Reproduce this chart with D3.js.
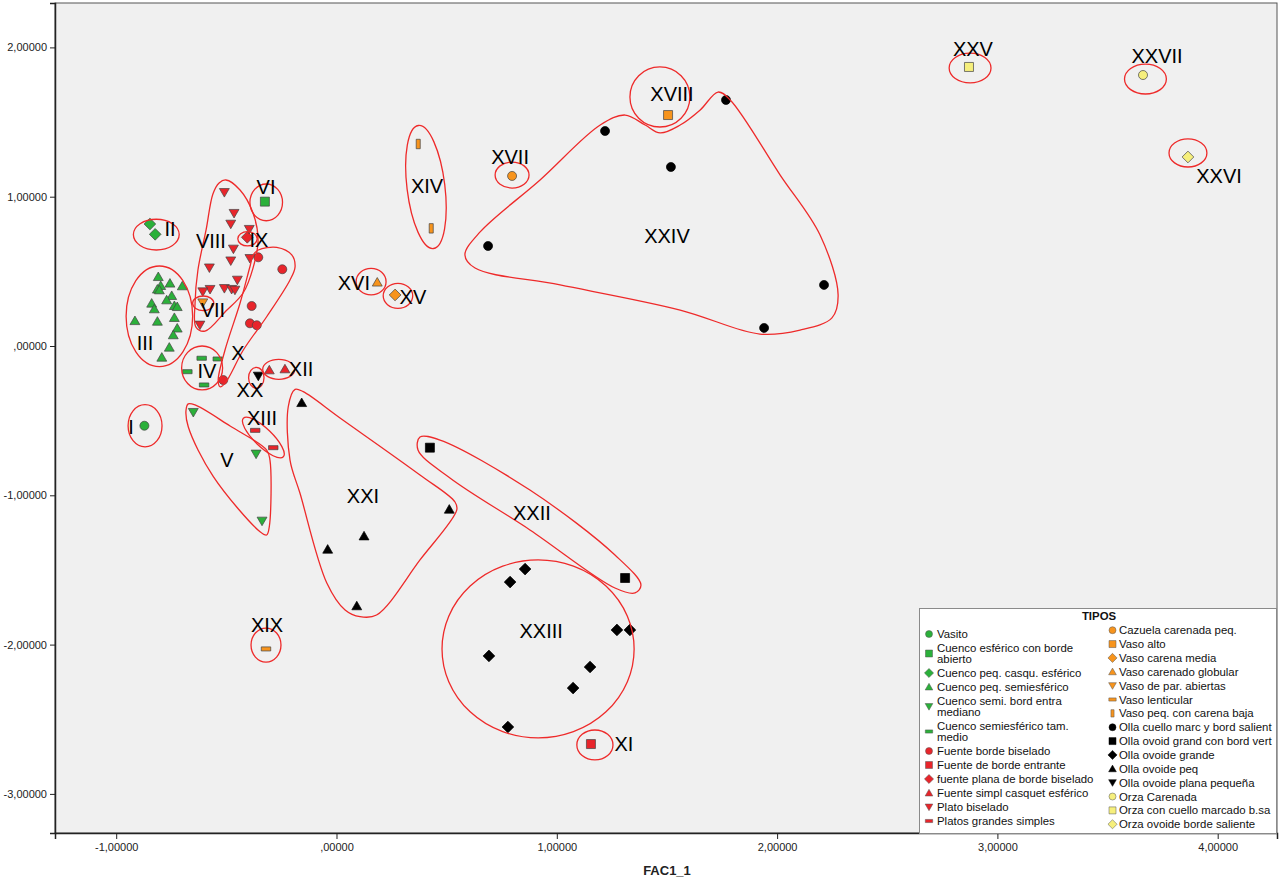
<!DOCTYPE html>
<html>
<head>
<meta charset="utf-8">
<script src="https://cdn.jsdelivr.net/npm/d3@7"></script>
<style>
  body { margin: 0; background: #ffffff; }
  svg { display: block; font-family: "Liberation Sans", Arial, sans-serif; }
</style>
</head>
<body>
<svg id="chart" width="1279" height="879"></svg>
<script>
// ---- Factor scores (FAC1_1, FAC2_1) per vessel type ----
const vasito = [[-0.872, -0.534]];
const cuencoEsfericoBordeAbierto = [[-0.325, 0.967]];
const cuencoPeqCasquEsferico = [[-0.847, 0.817], [-0.823, 0.748]];
const cuencoPeqSemiesferico = [
  [-0.809, 0.464], [-0.798, 0.404], [-0.756, 0.420], [-0.700, 0.402], [-0.813, 0.380],
  [-0.804, 0.375], [-0.748, 0.337], [-0.771, 0.308], [-0.839, 0.286], [-0.827, 0.248],
  [-0.736, 0.270], [-0.723, 0.263], [-0.915, 0.169], [-0.813, 0.165], [-0.736, 0.190],
  [-0.723, 0.119], [-0.741, 0.074], [-0.759, -0.009], [-0.793, -0.076]
];
const cuencoSemiBordEntraMediano = [[-0.650, -0.444], [-0.365, -0.723], [-0.338, -1.172]];
const cuencoSemiesfericoTamMedio = [[-0.612, -0.082], [-0.539, -0.087], [-0.677, -0.172], [-0.601, -0.261]];
const fuenteBordeBiselado = [[-0.355, 0.594], [-0.246, 0.514], [-0.385, 0.268], [-0.393, 0.152], [-0.362, 0.139], [-0.514, -0.228]];
const fuenteBordeEntrante = [[1.155, -2.666]];
const fuentePlanaBordeBiselado = [[-0.405, 0.728]];
const fuenteSimplCasquetEsferico = [[-0.305, -0.161], [-0.234, -0.154]];
const platoBiselado = [
  [-0.509, 1.029], [-0.465, 0.889], [-0.480, 0.817], [-0.396, 0.782], [-0.468, 0.650],
  [-0.480, 0.571], [-0.393, 0.587], [-0.577, 0.524], [-0.450, 0.442], [-0.509, 0.386],
  [-0.476, 0.380], [-0.461, 0.375], [-0.574, 0.380], [-0.607, 0.364], [-0.620, 0.141]
];
const platosGrandesSimples = [[-0.369, -0.565], [-0.287, -0.681]];
const cazuelaCarenadaPeq = [[0.797, 1.139]];
const vasoAlto = [[1.505, 1.547]];
const vasoCarenaMedia = [[0.266, 0.342]];
const vasoCarenadoGlobular = [[0.185, 0.427]];
const vasoParAbiertas = [[-0.607, 0.290]];
const vasoLenticular = [[-0.320, -2.029]];
const vasoPeqCarenaBaja = [[0.371, 1.353], [0.430, 0.788]];
const ollaCuelloMarc = [[1.219, 1.440], [1.768, 1.648], [1.518, 1.199], [0.688, 0.670], [2.213, 0.409], [1.941, 0.121]];
const ollaOvoidGrandBordVert = [[0.424, -0.681], [1.310, -1.554]];
const ollaOvoideGrande = [
  [0.788, -1.581], [0.856, -1.494], [1.273, -1.902], [1.332, -1.902],
  [0.692, -2.076], [1.151, -2.150], [1.074, -2.291], [0.778, -2.552]
];
const ollaOvoidePeq = [[-0.158, -0.380], [0.512, -1.094], [0.125, -1.273], [-0.040, -1.362], [0.092, -1.741]];
const ollaOvoidePlanaPequena = [[-0.355, -0.201]];
const orzaCarenada = [[3.661, 1.815]];
const orzaCuelloMarcado = [[2.871, 1.869]];
const orzaOvoideBordeSaliente = [[3.865, 1.266]];

// ---- Legend names, in legend order (two columns) ----
const tiposCol1 = [
  "Vasito", "Cuenco esférico con borde abierto", "Cuenco peq. casqu. esférico",
  "Cuenco peq. semiesférico", "Cuenco semi. bord entra mediano", "Cuenco semiesférico tam. medio",
  "Fuente borde biselado", "Fuente de borde entrante", "fuente plana de borde biselado",
  "Fuente simpl casquet esférico", "Plato biselado", "Platos grandes simples"
];
const tiposCol2 = [
  "Cazuela carenada peq.", "Vaso alto", "Vaso carena media", "Vaso carenado globular",
  "Vaso de par. abiertas", "Vaso lenticular", "Vaso peq. con carena baja",
  "Olla cuello marc y bord salient", "Olla ovoid grand con bord vert", "Olla ovoide grande",
  "Olla ovoide peq", "Olla ovoide plana pequeña", "Orza Carenada",
  "Orza con cuello marcado b.sa", "Orza ovoide borde saliente"
];
const seriesValues = [
  vasito, cuencoEsfericoBordeAbierto, cuencoPeqCasquEsferico, cuencoPeqSemiesferico,
  cuencoSemiBordEntraMediano, cuencoSemiesfericoTamMedio, fuenteBordeBiselado, fuenteBordeEntrante,
  fuentePlanaBordeBiselado, fuenteSimplCasquetEsferico, platoBiselado, platosGrandesSimples,
  cazuelaCarenadaPeq, vasoAlto, vasoCarenaMedia, vasoCarenadoGlobular, vasoParAbiertas,
  vasoLenticular, vasoPeqCarenaBaja, ollaCuelloMarc, ollaOvoidGrandBordVert, ollaOvoideGrande,
  ollaOvoidePeq, ollaOvoidePlanaPequena, orzaCarenada, orzaCuelloMarcado, orzaOvoideBordeSaliente
];

// ---- Axis ticks ----
const xTicks = [-1, 0, 1, 2, 3, 4];
const yTicks = [-3, -2, -1, 0, 1, 2];

// ---- Group labels (Roman numerals) at their positions in factor space ----
const groupNames = ["I","II","III","IV","V","VI","VII","VIII","IX","X","XI","XII","XIII","XIV",
  "XV","XVI","XVII","XVIII","XIX","XX","XXI","XXII","XXIII","XXIV","XXV","XXVI","XXVII"];
const groupLabelPos = [
  [-0.933, -0.543], [-0.756, 0.784], [-0.869, 0.020], [-0.588, -0.167], [-0.497, -0.764],
  [-0.320, 1.065], [-0.561, 0.241], [-0.570, 0.703], [-0.352, 0.710], [-0.447, -0.047],
  [1.305, -2.666], [-0.161, -0.154], [-0.338, -0.482], [0.411, 1.072], [0.347, 0.328],
  [0.079, 0.422], [0.788, 1.266], [1.523, 1.688], [-0.315, -1.869], [-0.393, -0.295],
  [0.120, -1.005], [0.887, -1.119], [0.929, -1.909], [1.500, 0.737], [2.889, 1.989],
  [4.006, 1.139], [3.725, 1.942]
];

// ---- Group boundaries: ellipses [centre x, centre y, semi-axis x, semi-axis y, tilt deg] ----
const groupEllipses = [
  [-0.869, -0.534, 0.077, 0.141, 0],    // I
  [-0.818, 0.746, 0.104, 0.103, 0],     // II
  [-0.804, 0.199, 0.151, 0.337, 0],     // III
  [-0.610, -0.147, 0.093, 0.147, 0],    // IV
  [-0.319, 0.962, 0.074, 0.123, 0],     // VI
  [-0.605, 0.286, 0.048, 0.049, 0],     // VII
  [-0.404, 0.718, 0.044, 0.048, 0],     // IX
  [1.173, -2.672, 0.082, 0.100, 0],     // XI
  [-0.262, -0.156, 0.073, 0.067, 0],    // XII
  [-0.332, -0.613, 0.126, 0.060, 44],   // XIII (tilted)
  [0.406, 1.065, 0.086, 0.415, -7],     // XIV (tilted)
  [0.279, 0.336, 0.067, 0.084, 0],      // XV
  [0.157, 0.431, 0.068, 0.089, 0],      // XVI
  [0.797, 1.145, 0.077, 0.087, 0],      // XVII
  [1.468, 1.668, 0.136, 0.201, 0],      // XVIII
  [-0.320, -2.003, 0.068, 0.114, 0],    // XIX
  [-0.364, -0.213, 0.035, 0.070, 0],    // XX
  [0.915, -2.029, 0.436, 0.596, 0],     // XXIII
  [2.876, 1.862, 0.095, 0.100, 0],      // XXV
  [3.865, 1.293, 0.086, 0.094, 0],      // XXVI
  [3.672, 1.788, 0.095, 0.100, 0]       // XXVII
];

// ---- Group boundaries: free-form closed outlines ----
const outlineVIII = [[-0.502,1.112],[-0.438,1.045],[-0.379,0.891],[-0.356,0.710],[-0.379,0.522],[-0.424,0.355],
  [-0.502,0.234],[-0.597,0.100],[-0.638,0.127],[-0.642,0.288],[-0.629,0.509],[-0.592,0.777],[-0.561,1.018],[-0.533,1.092]];
const outlineX = [[-0.355,0.643],[-0.271,0.661],[-0.203,0.610],[-0.188,0.531],[-0.211,0.442],[-0.317,0.196],
  [-0.423,-0.027],[-0.506,-0.250],[-0.529,-0.273],[-0.537,-0.228],[-0.506,-0.027],[-0.438,0.286],[-0.393,0.531],[-0.378,0.610]];
const outlineV = [[-0.673,-0.388],[-0.642,-0.395],[-0.483,-0.536],[-0.317,-0.697],[-0.302,-0.764],[-0.305,-1.210],
  [-0.317,-1.266],[-0.347,-1.244],[-0.559,-0.875],[-0.673,-0.541],[-0.683,-0.429]];
const outlineXXI = [[-0.188,-0.290],[-0.219,-0.407],[-0.211,-0.764],[-0.166,-0.985],[-0.044,-1.587],[0.039,-1.768],
  [0.107,-1.813],[0.182,-1.802],[0.379,-1.433],[0.546,-1.098],[0.538,-1.045],[0.379,-0.864],[0.016,-0.482],[-0.151,-0.306]];
const outlineXXII = [[0.379,-0.610],[0.470,-0.630],[0.878,-0.965],[1.264,-1.400],[1.382,-1.601],[1.355,-1.654],
  [1.264,-1.621],[0.878,-1.232],[0.515,-0.884],[0.370,-0.697]];
const outlineXXIV = [[0.583,0.610],[0.652,0.764],[0.924,1.112],[1.197,1.480],[1.310,1.547],[1.401,1.480],[1.469,1.427],
  [1.560,1.480],[1.651,1.581],[1.732,1.701],[1.787,1.648],[2.014,1.145],[2.195,0.743],[2.277,0.342],[2.249,0.188],
  [2.104,0.107],[1.922,0.080],[1.560,0.241],[1.015,0.409],[0.629,0.522]];
const groupOutlines = [outlineVIII, outlineX, outlineV, outlineXXI, outlineXXII, outlineXXIV];

// ---- Marker look per type ----
const GREEN = "#2bb03a", RED = "#e8252b", ORANGE = "#f7941d", BLACK = "#000000", YELLOW = "#f6ef7c";
const seriesStyle = [
  ["circle", GREEN], ["square", GREEN], ["diamond", GREEN], ["triangle", GREEN], ["triangleDown", GREEN], ["dash", GREEN],
  ["circle", RED], ["square", RED], ["diamond", RED], ["triangle", RED], ["triangleDown", RED], ["dash", RED],
  ["circle", ORANGE], ["square", ORANGE], ["diamond", ORANGE], ["triangle", ORANGE], ["triangleDown", ORANGE], ["dash", ORANGE], ["bar", ORANGE],
  ["circle", BLACK], ["square", BLACK], ["diamond", BLACK], ["triangle", BLACK], ["triangleDown", BLACK],
  ["circle", YELLOW], ["square", YELLOW], ["diamond", YELLOW]
];

function markerPath(shape, s) {
  const h = s / 2;
  switch (shape) {
    case "circle": return `M${h},0A${h},${h} 0 1,1 ${-h},0A${h},${h} 0 1,1 ${h},0Z`;
    case "square": return `M${-h},${-h}H${h}V${h}H${-h}Z`;
    case "diamond": { const d = h * 1.3; return `M0,${-d}L${d},0L0,${d}L${-d},0Z`; }
    case "triangle": return `M0,${-h * 1.05}L${h * 1.1},${h * 0.85}L${-h * 1.1},${h * 0.85}Z`;
    case "triangleDown": return `M0,${h * 1.05}L${h * 1.1},${-h * 0.85}L${-h * 1.1},${-h * 0.85}Z`;
    case "dash": return `M${-h * 1.05},${-h * 0.45}H${h * 1.05}V${h * 0.45}H${-h * 1.05}Z`;
    case "bar": return `M${-h * 0.45},${-h * 1.05}H${h * 0.45}V${h * 1.05}H${-h * 0.45}Z`;
  }
}

// ---- Layout ----
const svg = d3.select("#chart");
const plot = { left: 55, top: 3, right: 1277, bottom: 833 };

const x = d3.scaleLinear().domain([-1.2778, 4.2692]).range([plot.left, plot.right]);
const y = d3.scaleLinear().domain([2.2974, -3.2619]).range([plot.top, plot.bottom]);

svg.append("rect").attr("x", 0).attr("y", 0).attr("width", 1279).attr("height", 879).attr("fill", "#ffffff");
svg.append("rect")
  .attr("x", plot.left).attr("y", plot.top)
  .attr("width", plot.right - plot.left).attr("height", plot.bottom - plot.top)
  .attr("fill", "#f0f0f0").attr("stroke", "#555").attr("stroke-width", 1);

svg.append("defs").append("clipPath").attr("id", "plotClip")
  .append("rect").attr("x", plot.left).attr("y", plot.top)
  .attr("width", plot.right - plot.left).attr("height", plot.bottom - plot.top);

const tickFmt = d => {
  if (d === 0) return ",00000";
  return (d < 0 ? "-" : "") + Math.abs(d).toFixed(5).replace(".", ",");
};

// y axis
const yAxis = svg.append("g").attr("transform", `translate(${plot.left},0)`)
  .call(d3.axisLeft(y).tickValues(yTicks).tickFormat(tickFmt).tickSizeOuter(0).tickSize(5).tickPadding(3));
yAxis.select(".domain").attr("stroke", "#222").attr("stroke-width", 1.5);
yAxis.selectAll(".tick line").attr("stroke", "#222");
yAxis.selectAll(".tick text").attr("font-size", 11).attr("fill", "#222")
  .attr("font-family", '"Liberation Sans", Arial, sans-serif');

// x axis
const xAxis = svg.append("g").attr("transform", `translate(0,${plot.bottom})`)
  .call(d3.axisBottom(x).tickValues(xTicks).tickFormat(tickFmt).tickSizeOuter(0).tickSize(6).tickPadding(4));
xAxis.select(".domain").attr("stroke", "#222").attr("stroke-width", 1.5);
xAxis.selectAll(".tick line").attr("stroke", "#222");
xAxis.selectAll(".tick text").attr("font-size", 11).attr("fill", "#222")
  .attr("font-family", '"Liberation Sans", Arial, sans-serif');

svg.append("text").attr("x", 667).attr("y", 875).attr("text-anchor", "middle")
  .attr("font-size", 13).attr("font-weight", "bold").attr("fill", "#222").text("FAC1_1");

// ---- Markers ----
const markers = svg.append("g").attr("clip-path", "url(#plotClip)");
seriesValues.forEach((pts, i) => {
  const [shape, color] = seriesStyle[i];
  markers.selectAll(null).data(pts).enter().append("path")
    .attr("d", markerPath(shape, 9))
    .attr("transform", d => `translate(${x(d[0])},${y(d[1])})`)
    .attr("fill", color)
    .attr("stroke", color === BLACK ? "#000" : "#444")
    .attr("stroke-width", 0.7);
});

// ---- Group boundaries ----
const bounds = svg.append("g").attr("clip-path", "url(#plotClip)")
  .attr("fill", "none").attr("stroke", "#ee2a2a").attr("stroke-width", 1.3);

groupEllipses.forEach(([cx, cy, ex, ey, tilt]) => {
  const px = x(cx), py = y(cy);
  bounds.append("ellipse")
    .attr("cx", px).attr("cy", py)
    .attr("rx", x(cx + ex) - px).attr("ry", py - y(cy + ey))
    .attr("transform", `rotate(${tilt},${px},${py})`);
});

const outlineLine = d3.line().x(d => x(d[0])).y(d => y(d[1])).curve(d3.curveCatmullRomClosed.alpha(0.5));
groupOutlines.forEach(o => bounds.append("path").attr("d", outlineLine(o)));

// ---- Group labels ----
svg.append("g").selectAll("text").data(groupNames).enter().append("text")
  .attr("x", (d, i) => x(groupLabelPos[i][0]))
  .attr("y", (d, i) => y(groupLabelPos[i][1]))
  .attr("text-anchor", "middle").attr("dominant-baseline", "central")
  .attr("font-size", 20).attr("fill", "#000")
  .text(d => d);

// ---- Legend ----
const LEGEND_FONT = 11.4;
const legend = svg.append("g");
legend.append("rect").attr("x", 919.5).attr("y", 608.5).attr("width", 357).attr("height", 225)
  .attr("fill", "#ffffff").attr("stroke", "#8a8a8a").attr("stroke-width", 1);
legend.append("text").attr("x", 1099).attr("y", 616).attr("text-anchor", "middle")
  .attr("dominant-baseline", "central").attr("font-size", LEGEND_FONT).attr("font-weight", "bold")
  .attr("fill", "#111").text("TIPOS");

function wrapWords(name, maxW) {
  const probe = legend.append("text").attr("font-size", LEGEND_FONT).attr("visibility", "hidden");
  const words = name.split(" ");
  const lines = [];
  let cur = "";
  words.forEach(w => {
    const test = cur ? cur + " " + w : w;
    probe.text(test);
    if (cur && probe.node().getComputedTextLength() > maxW) { lines.push(cur); cur = w; }
    else cur = test;
  });
  lines.push(cur);
  probe.remove();
  return lines;
}

function drawColumn(names, offset, mx, tx, y0, entryGap, lineGap) {
  let yy = y0;
  names.forEach((name, k) => {
    const i = offset + k;
    const [shape, color] = seriesStyle[i];
    const lines = wrapWords(name, 160);
    const midY = yy + (lines.length - 1) * lineGap / 2;
    legend.append("path").attr("d", markerPath(shape, 7))
      .attr("transform", `translate(${mx},${midY})`)
      .attr("fill", color).attr("stroke", color === BLACK ? "#000" : "#555").attr("stroke-width", 0.5);
    lines.forEach((ln, j) => {
      legend.append("text").attr("x", tx).attr("y", yy + j * lineGap)
        .attr("dominant-baseline", "central").attr("font-size", LEGEND_FONT).attr("fill", "#111").text(ln);
    });
    yy += (lines.length - 1) * lineGap + entryGap;
  });
}
drawColumn(tiposCol1, 0, 929, 937, 634, 14.0, 11);
drawColumn(tiposCol2, tiposCol1.length, 1112.5, 1119, 630.2, 13.86, 11);
</script>
</body>
</html>
